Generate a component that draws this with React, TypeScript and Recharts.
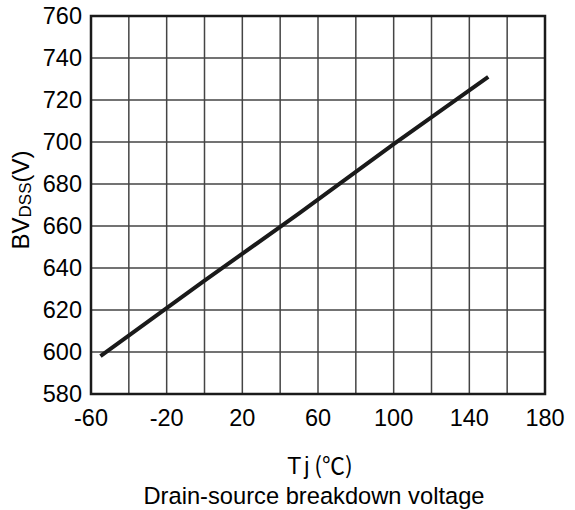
import React from 'react';
import {
  LineChart,
  Line,
  XAxis,
  YAxis,
  CartesianGrid,
  ReferenceArea
} from 'recharts';

// junction temperature (°C) vs breakdown voltage (V)
const temps = [-55, 0, 50, 100, 150];
const bvdss = [598, 634, 666, 699, 731];

const xTicks = [-60, -40, -20, 0, 20, 40, 60, 80, 100, 120, 140, 160, 180];
const yTicks = [580, 600, 620, 640, 660, 680, 700, 720, 740, 760];
const labeledX = [-60, -20, 20, 60, 100, 140, 180];

const FONT = '"Liberation Sans", Arial, sans-serif';

const data = temps.map((t, i) => ({ t, bv: bvdss[i] }));

const XLabels = (props: any) => {
  const { x, y, width } = props.viewBox;
  const cx = x + width / 2;
  return (
    <g fontFamily={FONT} fill="#000">
      <text x={cx + 2} y={y + 80} textAnchor="middle" fontSize={23}>
        T
        <tspan dx={3}>j</tspan>
        <tspan dx={5} fontFamily='"Noto Sans CJK SC", serif' fontSize={23}>(℃)</tspan>
      </text>
      <text x={cx - 4} y={y + 110} textAnchor="middle" fontSize={23.7}>
        Drain-source breakdown voltage
      </text>
    </g>
  );
};

const YLabel = (props: any) => {
  const { x, y, height } = props.viewBox;
  const cx = x + 28;
  const cy = y + height / 2 - 5;
  return (
    <text
      x={cx}
      y={cy}
      transform={`rotate(-90 ${cx} ${cy})`}
      textAnchor="middle"
      fontFamily={FONT}
      fontSize={24}
      fill="#000"
    >
      BV
      <tspan fontSize={17} dy={2}>DSS</tspan>
      <tspan dy={-2}>(V)</tspan>
    </text>
  );
};

const App: React.FC = () => {
  return (
    <div style={{ position: 'absolute', left: 0, top: 0, background: '#fff' }}>
      <LineChart
        width={575}
        height={510}
        data={data}
        margin={{ top: 16, right: 30, bottom: 86, left: 1 }}
      >
        <CartesianGrid stroke="#444" strokeWidth={1.5} />
        <XAxis
          dataKey="t"
          type="number"
          domain={[-60, 180]}
          ticks={xTicks}
          interval={0}
          height={30}
          tickLine={false}
          axisLine={false}
          tickMargin={9}
          tickFormatter={(v: number) => (labeledX.includes(v) ? String(v) : '')}
          tick={{ fill: '#000', fontSize: 23.5, fontFamily: FONT }}
          label={<XLabels />}
        />
        <YAxis
          type="number"
          domain={[580, 760]}
          ticks={yTicks}
          interval={0}
          width={90}
          tickLine={false}
          axisLine={false}
          tickMargin={3}
          tick={{ fill: '#000', fontSize: 23.5, fontFamily: FONT }}
          label={<YLabel />}
        />
        <ReferenceArea
          x1={-60}
          x2={180}
          y1={580}
          y2={760}
          fill="none"
          stroke="#1a1a1a"
          strokeWidth={2.5}
          ifOverflow="visible"
        />
        <Line
          dataKey="bv"
          stroke="#1a1a1a"
          strokeWidth={4}
          dot={false}
          isAnimationActive={false}
        />
      </LineChart>
    </div>
  );
};

export default App;
